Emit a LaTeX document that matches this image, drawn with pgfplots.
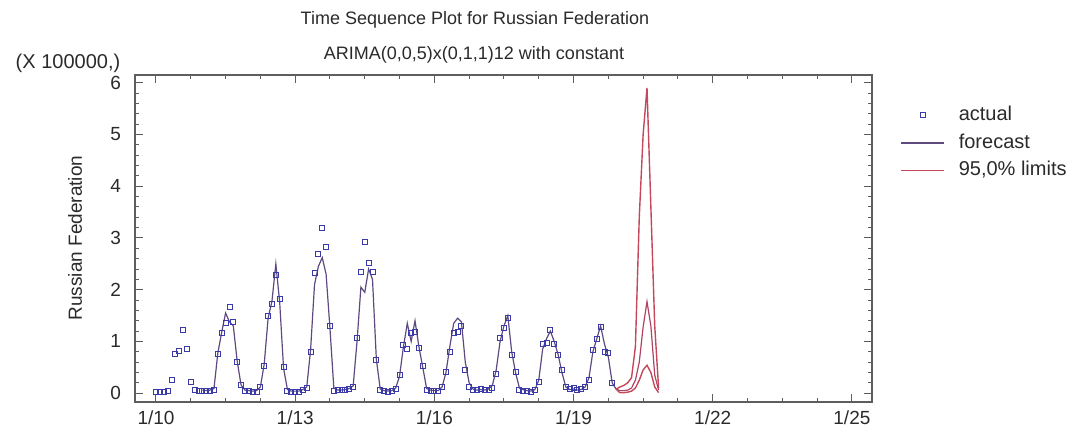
\documentclass[border=0pt]{standalone}
\usepackage{fontspec}
\setmainfont{Liberation Sans}
\usepackage{pgfplots}
\pgfplotsset{compat=1.18}
\usepackage{pgfplotstable}
\definecolor{axgray}{HTML}{5E5E5E}
\definecolor{txt}{HTML}{2A2A2A}
\definecolor{act}{HTML}{3A3AA8}
\definecolor{fit}{HTML}{5E4A7E}
\definecolor{lim}{HTML}{C4485C}
\definecolor{fcst}{HTML}{B04262}
\pgfplotsset{
  linelegend/.style={legend image code/.code={\draw[##1] (0pt,0pt) -- (21.5pt,0pt);}},
  marklegend/.style={legend image code/.code={\draw[mark repeat=2,mark phase=2,##1] plot coordinates {(0pt,0pt) (10.75pt,0pt) (21.5pt,0pt)};}},
}

% actual monthly values (x 100000), m = months since Jan 2010
\pgfplotstableread{
m v
0 0.03
1 0.02
2 0.03
3 0.04
4 0.25
5 0.75
6 0.82
7 1.23
8 0.85
9 0.21
10 0.06
11 0.05
12 0.05
13 0.04
14 0.05
15 0.07
16 0.76
17 1.16
18 1.36
19 1.66
20 1.38
21 0.60
22 0.15
23 0.05
24 0.04
25 0.03
26 0.03
27 0.12
28 0.53
29 1.50
30 1.72
31 2.28
32 1.82
33 0.50
34 0.05
35 0.03
36 0.03
37 0.03
38 0.06
39 0.10
40 0.80
41 2.32
42 2.70
43 3.20
44 2.82
45 1.30
46 0.05
47 0.06
48 0.06
49 0.07
50 0.08
51 0.12
52 1.06
53 2.35
54 2.93
55 2.52
56 2.35
57 0.65
58 0.07
59 0.04
60 0.03
61 0.04
62 0.08
63 0.35
64 0.93
65 0.85
66 1.16
67 1.18
68 0.87
69 0.53
70 0.07
71 0.05
72 0.05
73 0.04
74 0.12
75 0.41
76 0.79
77 1.17
78 1.19
79 1.30
80 0.45
81 0.12
82 0.07
83 0.06
84 0.08
85 0.06
86 0.07
87 0.11
88 0.38
89 1.06
90 1.26
91 1.45
92 0.74
93 0.41
94 0.06
95 0.05
96 0.04
97 0.03
98 0.06
99 0.22
100 0.96
101 0.98
102 1.23
103 0.96
104 0.74
105 0.45
106 0.12
107 0.08
108 0.10
109 0.07
110 0.08
111 0.12
112 0.26
113 0.83
114 1.04
115 1.28
116 0.80
117 0.78
118 0.19
}\actual

% fitted values (one-step forecasts)
\pgfplotstableread{
m v
12 0.06
13 0.05
14 0.06
15 0.09
16 0.78
17 1.18
18 1.55
19 1.38
20 1.30
21 0.62
22 0.16
23 0.06
24 0.05
25 0.04
26 0.05
27 0.12
28 0.57
29 1.45
30 1.78
31 2.50
32 1.75
33 0.48
34 0.07
35 0.04
36 0.04
37 0.04
38 0.07
39 0.12
40 0.85
41 2.10
42 2.45
43 2.62
44 2.30
45 1.25
46 0.10
47 0.06
48 0.06
49 0.07
50 0.09
51 0.14
52 1.00
53 2.05
54 1.95
55 2.40
56 2.20
57 0.65
58 0.08
59 0.05
60 0.04
61 0.05
62 0.10
63 0.33
64 0.90
65 1.35
66 1.00
67 1.40
68 0.90
69 0.50
70 0.09
71 0.06
72 0.05
73 0.05
74 0.12
75 0.40
76 0.90
77 1.35
78 1.45
79 1.38
80 0.60
81 0.20
82 0.08
83 0.06
84 0.07
85 0.06
86 0.08
87 0.15
88 0.45
89 1.00
90 1.30
91 1.50
92 0.80
93 0.40
94 0.10
95 0.07
96 0.05
97 0.04
98 0.07
99 0.25
100 0.85
101 1.05
102 1.20
103 1.00
104 0.75
105 0.40
106 0.12
107 0.07
108 0.08
109 0.06
110 0.07
111 0.12
112 0.30
113 0.80
114 1.05
115 1.30
116 0.95
117 0.70
118 0.20
119 0.08
}\fitted

% forecasts for 2020 with 95% limits
\pgfplotstableread{
m f lo hi
119 0.08 0.08 0.08
120 0.05 0.01 0.12
121 0.05 0.01 0.15
122 0.06 0.02 0.20
123 0.10 0.04 0.30
124 0.25 0.10 0.90
125 0.60 0.25 3.40
126 1.28 0.45 5.00
127 1.77 0.54 5.90
128 1.30 0.40 3.60
129 0.35 0.12 1.30
130 0.06 0.01 0.10
}\fc

\begin{document}
\begin{tikzpicture}
\useasboundingbox (-67.5pt,-17.5pt) rectangle (470pt,201pt);
\begin{axis}[
  scale only axis, width=368.5pt, height=163.5pt,
  xmin=-5.43, xmax=185.2, ymin=-0.17, ymax=6.15,
  xtick={0,36,72,108,144,180},
  xticklabels={1/10,1/13,1/16,1/19,1/22,1/25},
  minor x tick num=3,
  ytick={0,1,2,3,4,5,6}, minor y tick num=4,
  tick align=inside,
  major tick length=4pt, minor tick length=2.2pt,
  axis line style={axgray, line width=0.6pt},
  every tick/.style={axgray, line width=0.5pt},
  /pgf/number format/assume math mode=true,
  tick label style={font=\fontsize{9.5}{11}\selectfont, text=txt},
  yticklabel style={xshift=-3.5pt},
  xticklabel style={yshift=-1pt},
  legend style={at={(1.038,0.912)}, anchor=north west, draw=none, fill=none,
    font=\fontsize{10}{12}\selectfont, text=txt, inner sep=0pt,
    row sep=2.6pt,
    nodes={inner sep=1pt, text height=7.2pt, text depth=2pt, anchor=west}},
  legend cell align=left,
  /tikz/every odd column/.append style={column sep=6pt},
]
\addplot[only marks, mark=square, mark size=1.25pt, mark options={act, line width=0.45pt}, marklegend]
  table[x=m,y=v] {\actual};
\addlegendentry{actual}
\addplot[fit, line width=0.6pt, no marks, linelegend]
  table[x=m,y=v] {\fitted};
\addlegendentry{forecast}
\addplot[lim, line width=0.7pt, no marks, linelegend]
  table[x=m,y=hi] {\fc};
\addlegendentry{95,0\% limits}
\addplot[lim, line width=0.7pt, no marks, forget plot] table[x=m,y=lo] {\fc};
\addplot[fcst, line width=0.6pt, no marks, forget plot] table[x=m,y=f] {\fc};
\end{axis}
\node[font=\fontsize{9}{11}\selectfont, text=txt] at (170pt,191pt) {Time Sequence Plot for Russian Federation};
\node[font=\fontsize{9}{11}\selectfont, text=txt] at (169.5pt,173.5pt) {ARIMA(0,0,5)x(0,1,1)12 with constant};
\node[font=\fontsize{10}{12}\selectfont, text=txt] at (-33.5pt,169.5pt) {(X 100000,)};
\node[font=\fontsize{9.5}{11}\selectfont, text=txt, rotate=90] at (-30pt,82pt) {Russian Federation};
\end{tikzpicture}
\end{document}
